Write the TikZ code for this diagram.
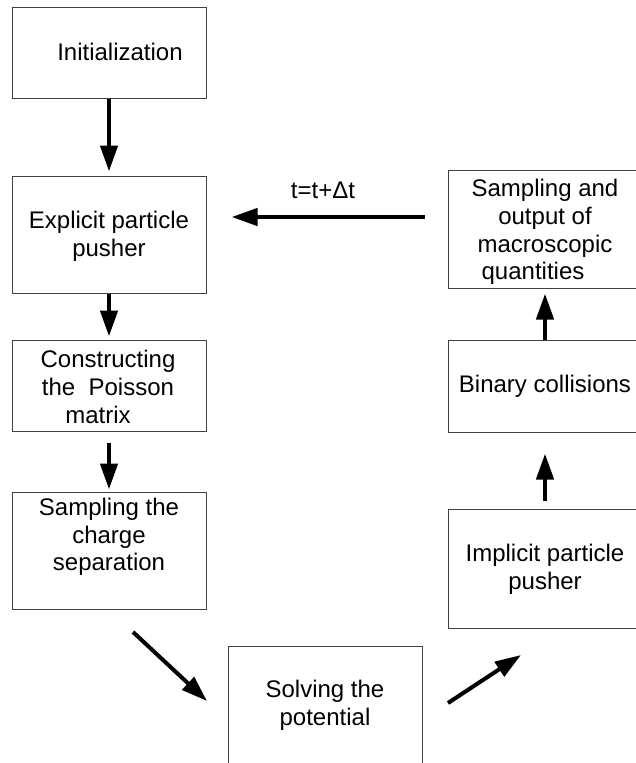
\documentclass[tikz,border=0pt]{standalone}
\usepackage{fontspec}
\setmainfont{Liberation Sans}
\usetikzlibrary{arrows.meta}
\begin{document}
\begin{tikzpicture}[x=1pt,y=-1pt,
  boxnode/.style={draw=black!75, line width=1pt, minimum width=194pt, inner sep=0pt},
  txt/.style={align=center, inner sep=0pt, font=\fontsize{24}{27.6}\selectfont},
  flow/.style={line width=4.5pt, -{Triangle[length=26pt,width=17pt]}}]
\useasboundingbox (0,0) rectangle (635,763);
% boxes
\node[boxnode, minimum height=91pt] (init) at (109,52.5) {};
\node[boxnode, minimum height=117pt] (expl) at (109,234.5) {};
\node[boxnode, minimum height=91pt] (cons) at (109,385.5) {};
\node[boxnode, minimum height=117pt] (charge) at (109,550.5) {};
\node[boxnode, minimum height=140pt] (solve) at (325,716) {};
\node[boxnode, minimum height=118pt] (samp) at (545,229) {};
\node[boxnode, minimum height=92pt] (bin) at (545,386) {};
\node[boxnode, minimum height=119pt] (impl) at (545,568.5) {};
% texts
\node[txt] (tinit) at (120,52) {Initialization};
\node[txt] (texpl) at (109,236) {Explicit particle\\pusher};
\node[txt] (tcons) at (108,387) {Constructing\\the\ \ Poisson\\\hspace*{-20pt}matrix};
\node[txt] (tcharge) at (109,537) {Sampling the\\charge\\separation};
\node[txt] (tsolve) at (325,705) {Solving the\\potential};
\node[txt] (tsamp) at (545,232) {Sampling and\\output of\\macroscopic\\\hspace*{-24pt}quantities};
\node[txt] (tbin) at (545,386) {Binary collisions};
\node[txt] (timpl) at (545,569) {Implicit particle\\pusher};
\node[txt] (tdt) at (323,190) {t=t+Δt};
% free ends of diagonal and gapped arrows
\coordinate (d1s) at (133,632);
\coordinate (d1e) at (207,701);
\coordinate (d2s) at (448,703);
\coordinate (d2e) at (521,655);
% connectors
\draw[flow, shorten >=4pt] (init.south) -- (expl.north);
\draw[flow, shorten >=3pt] (expl.south) -- (cons.north);
\draw[flow, shorten <=11pt, shorten >=2pt] (cons.south) -- (charge.north);
\draw[flow, line width=4pt] (d1s) -- (d1e);
\draw[flow, line width=4pt] (d2s) -- (d2e);
\draw[flow, shorten <=8pt, shorten >=21pt] (impl.north) -- (bin.south);
\draw[flow, shorten >=5pt] (bin.north) -- (samp.south);
\draw[flow, shorten <=23pt, shorten >=25pt] (samp.west |- 0,217) -- (expl.east |- 0,217);
\end{tikzpicture}
\end{document}
